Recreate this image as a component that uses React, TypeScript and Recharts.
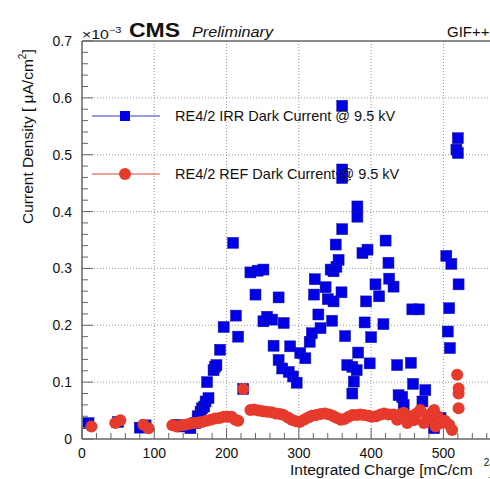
import React from "react";
import { CartesianGrid, ReferenceLine, Scatter, ScatterChart, XAxis, YAxis } from "recharts";

// Integrated charge [mC/cm2] and dark current density [x1e-3 uA/cm2]
const IRR_CHARGE = [
  9, 50, 80, 88, 131, 140, 150, 157, 160, 164, 166, 169, 171, 175, 173, 182, 184, 186, 191, 196,
  209, 213, 216, 223, 233, 240, 243, 251, 251, 256, 263, 265, 272, 272, 277, 279, 286, 288, 292, 297,
  302, 309, 315, 318, 321, 322, 327, 330, 337, 340, 344, 346, 348, 348, 351, 352, 355, 359, 360, 360,
  360, 360, 364, 367, 374, 374, 376, 380, 381, 381, 382, 388, 391, 393, 395, 398, 400, 406, 411, 417,
  420, 424, 425, 431, 436, 438, 443, 445, 455, 457, 466, 458, 471, 475, 487, 489, 496, 504, 506, 508,
  509, 511, 518, 520, 520, 521,
];
const IRR_CURRENT = [
  0.028, 0.030, 0.020, 0.024, 0.025, 0.022, 0.019, 0.028, 0.040, 0.048, 0.054, 0.057, 0.066, 0.072, 0.100, 0.121, 0.127, 0.130, 0.157, 0.197,
  0.345, 0.217, 0.180, 0.088, 0.293, 0.254, 0.296, 0.298, 0.207, 0.215, 0.210, 0.164, 0.249, 0.139, 0.124, 0.204, 0.118, 0.163, 0.110, 0.099,
  0.151, 0.142, 0.171, 0.186, 0.254, 0.281, 0.219, 0.195, 0.267, 0.246, 0.298, 0.208, 0.242, 0.295, 0.342, 0.303, 0.315, 0.258, 0.369, 0.586,
  0.474, 0.459, 0.181, 0.130, 0.127, 0.080, 0.101, 0.121, 0.409, 0.391, 0.152, 0.327, 0.205, 0.242, 0.333, 0.133, 0.179, 0.272, 0.251, 0.202,
  0.349, 0.310, 0.282, 0.268, 0.130, 0.077, 0.074, 0.060, 0.134, 0.228, 0.228, 0.097, 0.066, 0.086, 0.019, 0.028, 0.037, 0.322, 0.189, 0.230,
  0.160, 0.308, 0.509, 0.503, 0.529, 0.272,
];

const REF_CHARGE = [
  13, 46, 53, 85, 92, 125, 131, 137, 143, 149, 155, 161, 166, 172, 178, 184, 190, 196, 202, 207,
  212, 216, 223, 233, 238, 244, 250, 256, 262, 268, 274, 279, 285, 290, 296, 301, 307, 313, 318, 324,
  330, 336, 342, 348, 353, 358, 363, 369, 374, 380, 385, 390, 396, 401, 407, 413, 418, 424, 431, 436,
  440, 445, 450, 455, 459, 463, 468, 473, 478, 483, 487, 489, 492, 496, 502, 508, 512, 519, 521, 521,
  521,
];
const REF_CURRENT = [
  0.022, 0.028, 0.033, 0.025, 0.019, 0.024, 0.022, 0.024, 0.025, 0.027, 0.028, 0.029, 0.030, 0.032, 0.034, 0.036, 0.037, 0.039, 0.039, 0.039,
  0.034, 0.032, 0.088, 0.051, 0.052, 0.050, 0.049, 0.048, 0.047, 0.045, 0.044, 0.042, 0.038, 0.034, 0.031, 0.030, 0.034, 0.038, 0.041, 0.042,
  0.044, 0.045, 0.043, 0.040, 0.037, 0.034, 0.035, 0.039, 0.042, 0.042, 0.043, 0.042, 0.041, 0.039, 0.040, 0.043, 0.045, 0.043, 0.043, 0.034,
  0.043, 0.046, 0.028, 0.040, 0.033, 0.045, 0.051, 0.028, 0.036, 0.045, 0.051, 0.022, 0.040, 0.028, 0.032, 0.025, 0.016, 0.113, 0.089, 0.080,
  0.054,
];

const X_TICKS = [
  0, 20, 40, 60, 80, 100, 120, 140, 160, 180, 200, 220, 240, 260, 280, 300, 320, 340, 360, 380,
  400, 420, 440, 460, 480, 500, 520, 540, 560,
];
const X_GRID = [100, 200, 300, 400, 500];
const Y_TICKS = [
  0, 0.02, 0.04, 0.06, 0.08, 0.1, 0.12, 0.14, 0.16, 0.18, 0.2, 0.22, 0.24, 0.26, 0.28, 0.3, 0.32, 0.34,
  0.36, 0.38, 0.4, 0.42, 0.44, 0.46, 0.48, 0.5, 0.52, 0.54, 0.56, 0.58, 0.6, 0.62, 0.64, 0.66, 0.68, 0.7,
];
const Y_GRID = [0.1, 0.2, 0.3, 0.4, 0.5, 0.6];

const IRR_LABEL = "RE4/2 IRR Dark Current @ 9.5 kV";
const REF_LABEL = "RE4/2 REF Dark Current @ 9.5 kV";

const BLUE = "#0000e6";
const RED = "#e53a2c";
const FRAME = "#666";
const FONT = '"Liberation Sans", Arial, Helvetica, sans-serif';

const irrData = IRR_CHARGE.map((x, i) => ({ x, y: IRR_CURRENT[i] }));
const refData = REF_CHARGE.map((x, i) => ({ x, y: REF_CURRENT[i] }));

function isMajor(v: number, step: number): boolean {
  const r = v / step;
  return Math.abs(r - Math.round(r)) < 1e-6;
}

function XTick(props: any) {
  const { x, y, payload } = props;
  const major = isMajor(payload.value, 100);
  return (
    <g>
      <line x1={x} x2={x} y1={y} y2={y - (major ? 11 : 6)} stroke={FRAME} />
      {major && (
        <text x={x} y={y + 19} textAnchor="middle" fontSize={14} fill="#111" fontFamily={FONT}>
          {payload.value}
        </text>
      )}
    </g>
  );
}

function YTick(props: any) {
  const { x, y, payload } = props;
  const major = isMajor(payload.value, 0.1);
  return (
    <g>
      <line x1={x} x2={x + (major ? 11 : 6)} y1={y} y2={y} stroke={FRAME} />
      {major && (
        <text x={x - 10} y={y + 5} textAnchor="end" fontSize={14} fill="#111" fontFamily={FONT}>
          {payload.value === 0 ? "0" : Number(payload.value).toFixed(1)}
        </text>
      )}
    </g>
  );
}

function Square(props: any) {
  const { cx, cy } = props;
  return <rect x={cx - 5.5} y={cy - 5.5} width={11} height={11} fill={BLUE} stroke="#1a1aa0" strokeWidth={0.5} />;
}

function Dot(props: any) {
  const { cx, cy } = props;
  return <circle cx={cx} cy={cy} r={6} fill={RED} />;
}

const textBase: React.CSSProperties = {
  position: "absolute", lineHeight: 1, whiteSpace: "nowrap", color: "#111", fontFamily: FONT,
};

function LegendRow({ label, color, square, top }: { label: string; color: string; square: boolean; top: number }) {
  return (
    <div style={{ position: "absolute", left: 88, top, height: 20, width: 330 }}>
      <svg width={80} height={20} style={{ position: "absolute", left: 0, top: 0 }}>
        <line x1={4} x2={72} y1={10} y2={10} stroke={color} strokeWidth={1} />
        {square ? (
          <rect x={32} y={5} width={10} height={10} fill={BLUE} />
        ) : (
          <circle cx={37} cy={10} r={6} fill={RED} />
        )}
      </svg>
      <span style={{ ...textBase, left: 87, top: 3, fontSize: 14.5 }}>{label}</span>
    </div>
  );
}

export default function App() {
  return (
    <div
      style={{
        position: "absolute", left: 0, top: 0, width: 490, height: 479,
        overflow: "hidden", background: "#fff", fontFamily: FONT,
      }}
    >
      <ScatterChart width={500} height={479} margin={{ top: 41, right: 6, bottom: 0, left: 0 }}>
        <CartesianGrid
          stroke="#999"
          strokeDasharray="1 2"
          verticalValues={X_GRID}
          horizontalValues={Y_GRID}
        />
        <XAxis
          type="number"
          dataKey="x"
          domain={[0, 570]}
          ticks={X_TICKS}
          interval={0}
          height={40}
          tickSize={0}
          tickMargin={0}
          tickLine={false}
          axisLine={{ stroke: FRAME, strokeWidth: 1.5 }}
          tick={<XTick />}
          allowDataOverflow
        />
        <YAxis
          type="number"
          dataKey="y"
          domain={[0, 0.7]}
          ticks={Y_TICKS}
          interval={0}
          width={82}
          tickSize={0}
          tickMargin={0}
          tickLine={false}
          axisLine={{ stroke: FRAME, strokeWidth: 1.5 }}
          tick={<YTick />}
          allowDataOverflow
        />
        <ReferenceLine y={0.7} stroke={FRAME} strokeWidth={1.5} />
        <Scatter name={IRR_LABEL} data={irrData} shape={<Square />} isAnimationActive={false} />
        <Scatter name={REF_LABEL} data={refData} shape={<Dot />} isAnimationActive={false} />
      </ScatterChart>

      <LegendRow label={IRR_LABEL} color="#3a3ac8" square top={106} />
      <LegendRow label={REF_LABEL} color="#d84a3c" square={false} top={164} />

      <div style={{ ...textBase, left: 82, top: 28, fontSize: 13, transform: "scaleX(1.22)", transformOrigin: "left top" }}>
        ×10<sup style={{ fontSize: 9, verticalAlign: "6px", lineHeight: 0 }}>−3</sup>
      </div>
      <div style={{ ...textBase, left: 129, top: 20, fontSize: 20, fontWeight: "bold", transform: "scaleX(1.15)", transformOrigin: "left top" }}>
        CMS
      </div>
      <div style={{ ...textBase, left: 192, top: 24, fontSize: 15, fontStyle: "italic", transform: "scaleX(1.08)", transformOrigin: "left top" }}>
        Preliminary
      </div>
      <div style={{ ...textBase, left: 447, top: 24, fontSize: 15 }}>GIF++</div>

      <div style={{ ...textBase, left: 290, top: 462, fontSize: 15.5 }}>
        Integrated Charge [mC/cm
        <sup style={{ fontSize: 10, verticalAlign: "9px", lineHeight: 0, marginLeft: 11 }}>2</sup>]
      </div>
      <div
        style={{
          ...textBase, left: 20, top: 224, fontSize: 15.5,
          transform: "rotate(-90deg)", transformOrigin: "left top",
        }}
      >
        Current Density [ μA/cm<sup style={{ fontSize: 10, verticalAlign: "7px", lineHeight: 0 }}>2</sup>]
      </div>
    </div>
  );
}
